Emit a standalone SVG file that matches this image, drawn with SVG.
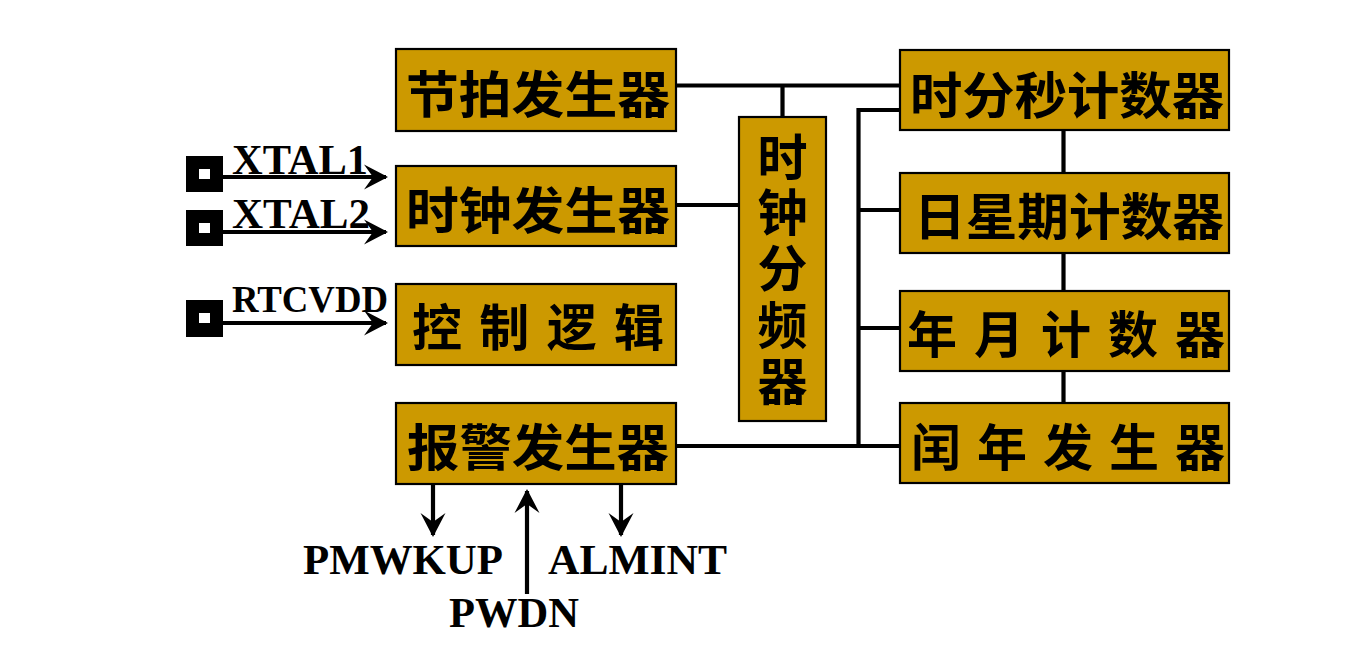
<svg xmlns="http://www.w3.org/2000/svg" width="1359" height="663" viewBox="0 0 1359 663">
<style>
.box{fill:#CC9900;stroke:#000;stroke-width:2.2}
.cj{font-family:"Noto Sans CJK SC","Noto Sans CJK JP",sans-serif;font-weight:700;font-size:50px;fill:#000}
.lb{font-family:"Liberation Serif","Times New Roman",serif;font-weight:700;fill:#000}
.wire{fill:none;stroke:#000;stroke-width:4.2}
.pin{fill:#000}
.pinh{fill:#fff}
</style>
<defs>
<marker id="ah" markerUnits="userSpaceOnUse" markerWidth="30" markerHeight="30" viewBox="-26 -15 30 30" refX="0" refY="0" orient="auto">
<path d="M2,0 L-22,-12.5 L-13,0 L-22,12.5 Z" fill="#000"/>
</marker>
</defs>
<rect width="1359" height="663" fill="#fff"/>
<g id="connectors">
<path class="wire" d="M676,85.5 H900 M782.5,85.5 V117"/>
<path class="wire" d="M676,205 H739"/>
<path class="wire" d="M900,110 H858.5 V446 M676,446 H900 M858.5,210 H900 M858.5,328 H900"/>
<path class="wire" d="M1063.5,130 V173 M1063.5,253 V291 M1063.5,371 V403"/>
<path class="wire" d="M222,177 H386" marker-end="url(#ah)"/>
<path class="wire" d="M222,232 H386" marker-end="url(#ah)"/>
<path class="wire" d="M222,323 H386" marker-end="url(#ah)"/>
<path class="wire" d="M433,484 V535" marker-end="url(#ah)"/>
<path class="wire" d="M621,484 V535" marker-end="url(#ah)"/>
<path class="wire" d="M527,594 V491" marker-end="url(#ah)"/>
</g>
<g id="pin-xtal1"><rect class="pin" x="186" y="156" width="37" height="36"/><rect class="pinh" x="199" y="169" width="11" height="10"/><text class="lb" x="232" y="174" font-size="42" textLength="136" lengthAdjust="spacingAndGlyphs">XTAL1</text></g>
<g id="pin-xtal2"><rect class="pin" x="186" y="210" width="37" height="36"/><rect class="pinh" x="199" y="223" width="11" height="10"/><text class="lb" x="232" y="228" font-size="42" textLength="138" lengthAdjust="spacingAndGlyphs">XTAL2</text></g>
<g id="pin-rtcvdd"><rect class="pin" x="186" y="300" width="37" height="37"/><rect class="pinh" x="199" y="313" width="11" height="10"/><text class="lb" x="232" y="312" font-size="37" textLength="156" lengthAdjust="spacingAndGlyphs">RTCVDD</text></g>
<g id="sig-pmwkup"><text class="lb" x="303" y="574" font-size="43" textLength="200" lengthAdjust="spacingAndGlyphs">PMWKUP</text></g>
<g id="sig-almint"><text class="lb" x="548" y="574" font-size="43" textLength="179" lengthAdjust="spacingAndGlyphs">ALMINT</text></g>
<g id="sig-pwdn"><text class="lb" x="449" y="627" font-size="43" textLength="130" lengthAdjust="spacingAndGlyphs">PWDN</text></g>
<g id="jiepai"><rect class="box" x="396" y="49" width="280" height="82"/><text class="cj" x="406" y="113" textLength="264" lengthAdjust="spacingAndGlyphs">节拍发生器</text></g>
<g id="shizhong"><rect class="box" x="396" y="166" width="280" height="80"/><text class="cj" x="406" y="229" textLength="264" lengthAdjust="spacingAndGlyphs">时钟发生器</text></g>
<g id="kongzhi"><rect class="box" x="396" y="284" width="280" height="81"/><text class="cj" x="412" y="346" textLength="252" lengthAdjust="spacing">控制逻辑</text></g>
<g id="baojing"><rect class="box" x="396" y="403" width="280" height="81"/><text class="cj" x="407" y="466" textLength="262" lengthAdjust="spacingAndGlyphs">报警发生器</text></g>
<g id="fenpin"><rect class="box" x="739" y="117" width="87" height="304"/>
<text class="cj" x="782.5" text-anchor="middle"><tspan x="782.5" y="176">时</tspan><tspan x="782.5" y="231">钟</tspan><tspan x="782.5" y="287">分</tspan><tspan x="782.5" y="344">频</tspan><tspan x="782.5" y="400">器</tspan></text></g>
<g id="hms"><rect class="box" x="900" y="50" width="329" height="80"/><text class="cj" x="910" y="114" textLength="314" lengthAdjust="spacingAndGlyphs">时分秒计数器</text></g>
<g id="rxq"><rect class="box" x="900" y="173" width="329" height="80"/><text class="cj" x="914" y="235" textLength="310" lengthAdjust="spacingAndGlyphs">日星期计数器</text></g>
<g id="ny"><rect class="box" x="900" y="291" width="329" height="80"/><text class="cj" x="907" y="353" textLength="318" lengthAdjust="spacing">年月计数器</text></g>
<g id="run"><rect class="box" x="900" y="403" width="329" height="80"/><text class="cj" x="911" y="466" textLength="314" lengthAdjust="spacing">闰年发生器</text></g>
</svg>
